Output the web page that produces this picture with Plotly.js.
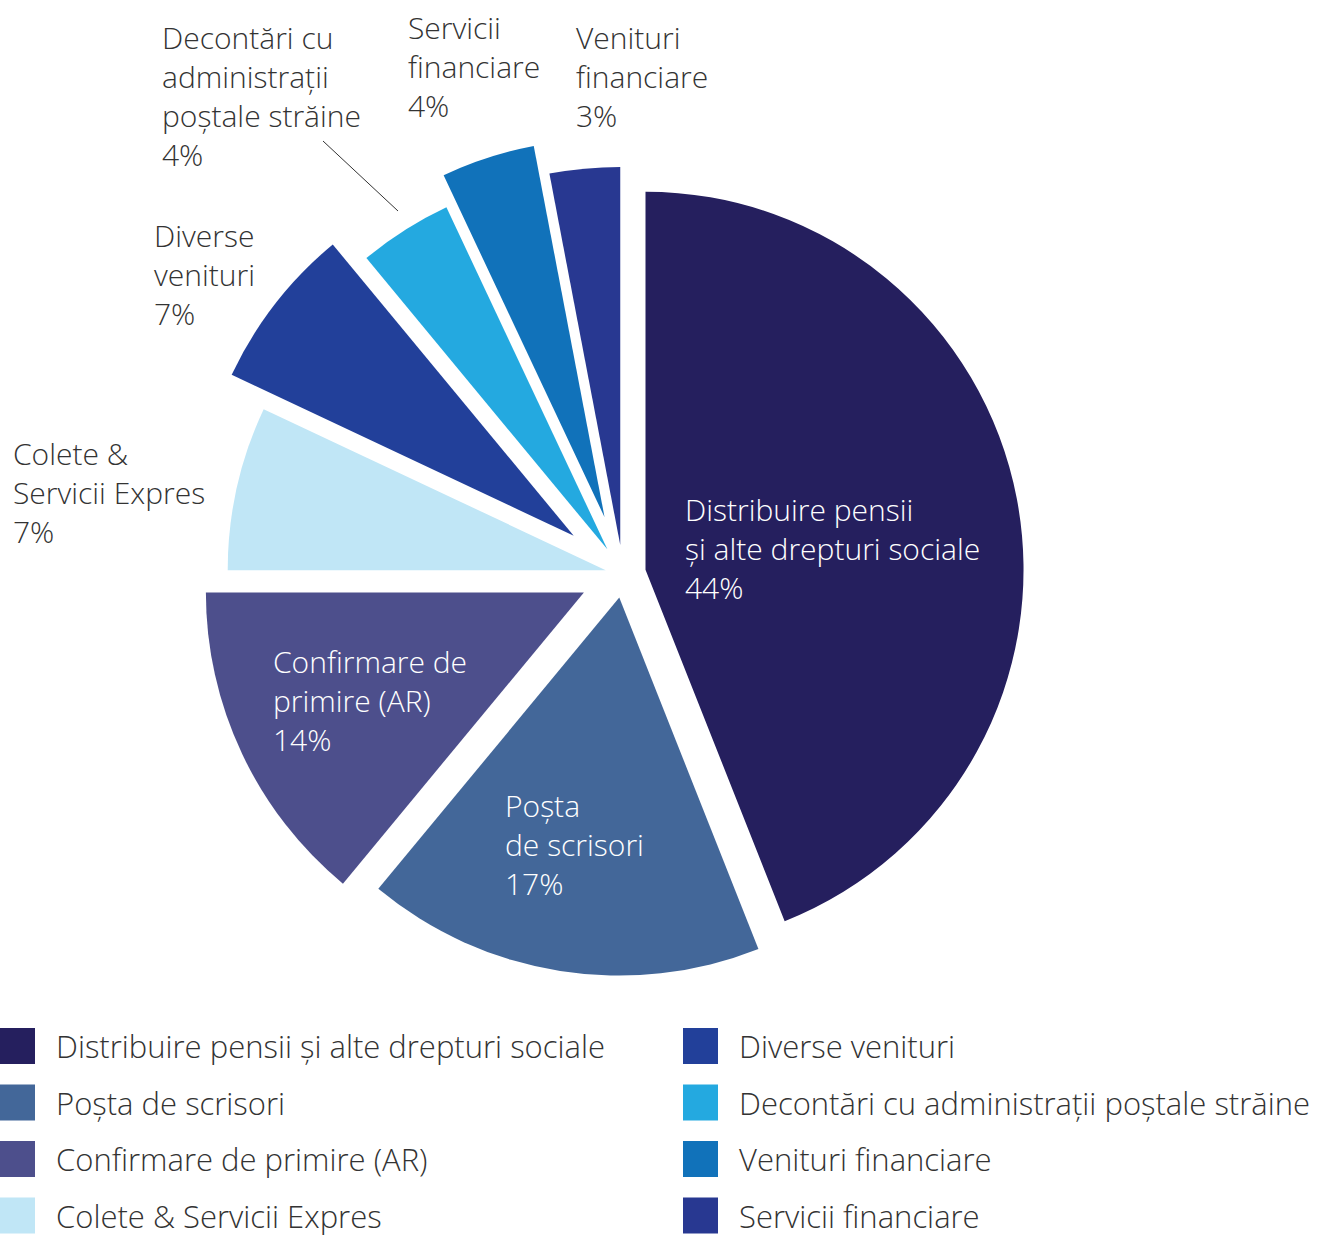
<!DOCTYPE html>
<html><head><meta charset="utf-8">
<script src="https://cdn.plot.ly/plotly-3.0.1.min.js"></script>
<style>html,body{margin:0;padding:0;background:#fff}</style>
</head><body><div id="chart" style="width:1334px;height:1237px"></div>
<script>
// ---- data ----
const categories = ["Distribuire pensii și alte drepturi sociale","Poșta de scrisori","Confirmare de primire (AR)","Colete & Servicii Expres","Diverse venituri","Decontări cu administrații poștale străine","Servicii financiare","Venituri financiare"];
const values = [44, 17, 14, 7, 7, 4, 4, 3];
const sliceLabels = ["Distribuire pensii<br>și alte drepturi sociale","Poșta<br>de scrisori","Confirmare de<br>primire (AR)","Colete &<br>Servicii Expres","Diverse<br>venituri","Decontări cu<br>administrații<br>poștale străine","Servicii<br>financiare","Venituri<br>financiare"];
const legendLabels = ["Distribuire pensii și alte drepturi sociale","Poșta de scrisori","Confirmare de primire (AR)","Colete & Servicii Expres","Diverse venituri","Decontări cu administrații poștale străine","Venituri financiare","Servicii financiare"];

// ---- styles ----
const sliceColors = ["#251f5e","#436799","#4d4f8c","#c0e6f6","#22409a","#24a9e0","#1172ba","#283891"];
const legendColors = ["#251f5e","#436799","#4d4f8c","#c0e6f6","#22409a","#24a9e0","#1172ba","#283891"];
const pulls = [0.0606, 0.0632, 0.1143, 0.0468, 0.165, 0.0772, 0.1577, 0.0772];
const labelX = [683, 503, 271, 11, 152, 160, 406, 574];
const labelY = [548, 844, 700, 492, 274, 96, 67, 77];
const labelColor = ["#ffffff","#ffffff","#ffffff","#333333","#333333","#333333","#333333","#333333"];

const W = 1334, H = 1237;
const px = x => x / W, py = y => 1 - y / H;
const FONT = "'Open Sans', Lato, sans-serif";

const annotations = [];
const shapes = [];
values.forEach((v, i) => {
  annotations.push({
    xref: 'paper', yref: 'paper', x: px(labelX[i]), y: py(labelY[i]),
    xanchor: 'left', yanchor: 'middle', align: 'left', showarrow: false,
    text: sliceLabels[i] + '<br>' + v + '%',
    font: {family: FONT, size: 30, color: labelColor[i], weight: 300}
  });
});
// leader line for Decontări
shapes.push({type: 'line', xref: 'paper', yref: 'paper', x0: px(323), y0: py(141), x1: px(398), y1: py(211), line: {color: '#333333', width: 1}});

// legend (two columns of four)
legendLabels.forEach((lab, i) => {
  const col = Math.floor(i / 4), row = i % 4;
  const x0 = col === 0 ? 0 : 683;
  const yc = 1046 + row * 56.5;
  shapes.push({type: 'rect', xref: 'paper', yref: 'paper', x0: px(x0), x1: px(x0 + 35), y0: py(yc - 18), y1: py(yc + 18), fillcolor: legendColors[i], line: {width: 0}});
  annotations.push({xref: 'paper', yref: 'paper', x: px(x0 + 54), y: py(yc), xanchor: 'left', yanchor: 'middle', showarrow: false, text: lab, font: {family: FONT, size: 31, color: '#333333', weight: 300}});
});

const trace = {
  type: 'pie',
  labels: categories,
  values: values,
  sort: false,
  direction: 'clockwise',
  rotation: 0,
  pull: pulls,
  marker: {colors: sliceColors, line: {width: 0}},
  textinfo: 'none',
  hoverinfo: 'label+percent',
  showlegend: false,
  domain: {x: [182.6 / W, 1063.4 / W], y: [1 - 1014.4 / H, 1 - 133.6 / H]}
};

const layout = {
  width: W, height: H,
  margin: {l: 0, r: 0, t: 0, b: 0},
  paper_bgcolor: '#ffffff',
  showlegend: false,
  font: {family: FONT},
  annotations: annotations,
  shapes: shapes
};
Plotly.newPlot('chart', [trace], layout, {displayModeBar: false, staticPlot: true});
</script>
</body></html>
